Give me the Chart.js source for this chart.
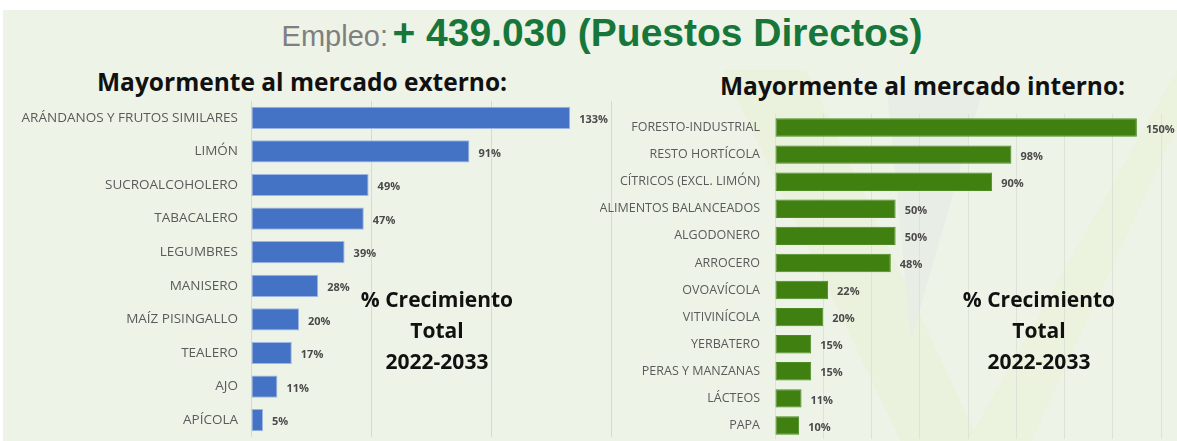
<!DOCTYPE html>
<html lang="es">
<head>
<meta charset="utf-8">
<title>Empleo</title>
<script src="https://cdn.jsdelivr.net/npm/chart.js@4.4.1/dist/chart.umd.min.js"></script>
<style>
  html, body { margin: 0; padding: 0; }
  body { width: 1177px; height: 441px; overflow: hidden; background: #ffffff; }
  #page {
    position: absolute; left: 3px; top: 10px; width: 1174px; height: 431px;
    background: #eef3e7; overflow: hidden;
  }
  /* faint logo shapes behind the right panel */
  .wm { position: absolute; }
  #wm1 { left: 720px; top: 60px; width: 260px; height: 380px; background: #eaf1dc;
         clip-path: polygon(0 0, 32% 0, 100% 100%, 70% 100%); }
  #wm2 { left: 960px; top: 60px; width: 214px; height: 380px; background: #ebf2de;
         clip-path: polygon(100% 0, 100% 15%, 30% 100%, 0 100%); }
  #wm3 { left: 860px; top: 80px; width: 120px; height: 250px; background: #e8eee6;
         clip-path: polygon(20% 0, 100% 0, 40% 100%); }
  canvas { position: absolute; }
  #chartExt { left: -3px; top: 91px; }
  #chartInt { left: 597px; top: 104px; }
  .txt { position: absolute; white-space: nowrap; }
  #title { left: 12px; width: 1174px; top: 1px; text-align: center; font-family: "Liberation Sans", Arial, sans-serif; }
  #title .gray { color: #7f7f7f; font-size: 29px; }
  #title .green { color: #17773a; font-size: 39px; font-weight: bold; }
  .sub { font-family: "Open Sans", sans-serif; font-weight: bold; font-size: 24.5px; color: #111; }
  #subExt { left: 94px; top: 55px; }
  #subInt { left: 717px; top: 59px; }
  .note { font-family: "Open Sans", sans-serif; font-weight: bold; font-size: 21px; color: #111;
          text-align: center; line-height: 31px; }
  #noteExt { left: 334px; top: 274px; width: 200px; }
  #noteInt { left: 936px; top: 274px; width: 200px; }
</style>
</head>
<body>
<div id="page">
  <div class="wm" id="wm1"></div>
  <div class="wm" id="wm2"></div>
  <div class="wm" id="wm3"></div>
  <div class="txt" id="title"><span class="gray">Empleo:</span> <span class="green">+ 439.030 (Puestos Directos)</span></div>
  <div class="txt sub" id="subExt">Mayormente al mercado externo:</div>
  <div class="txt sub" id="subInt">Mayormente al mercado interno:</div>
  <canvas id="chartExt" width="640" height="336"></canvas>
  <canvas id="chartInt" width="577" height="325"></canvas>
  <div class="txt note" id="noteExt">% Crecimiento<br>Total<br>2022-2033</div>
  <div class="txt note" id="noteInt">% Crecimiento<br>Total<br>2022-2033</div>
</div>
<script>
// Crecimiento total 2022-2033, cadenas orientadas al mercado externo
const sectoresExternos = [
  'ARÁNDANOS Y FRUTOS SIMILARES', 'LIMÓN', 'SUCROALCOHOLERO', 'TABACALERO',
  'LEGUMBRES', 'MANISERO', 'MAÍZ PISINGALLO', 'TEALERO', 'AJO', 'APÍCOLA'
];
const crecimientoExterno = [133, 91, 49, 47, 39, 28, 20, 17, 11, 5];

// Cadenas orientadas al mercado interno
const sectoresInternos = [
  'FORESTO-INDUSTRIAL', 'RESTO HORTÍCOLA', 'CÍTRICOS (EXCL. LIMÓN)', 'ALIMENTOS BALANCEADOS',
  'ALGODONERO', 'ARROCERO', 'OVOAVÍCOLA', 'VITIVINÍCOLA', 'YERBATERO',
  'PERAS Y MANZANAS', 'LÁCTEOS', 'PAPA'
];
const crecimientoInterno = [150, 98, 90, 50, 50, 48, 22, 20, 15, 15, 11, 10];

// value labels to the right of each bar
const barValueLabels = {
  id: 'barValueLabels',
  afterDatasetsDraw(chart) {
    const ctx = chart.ctx;
    const meta = chart.getDatasetMeta(0);
    const values = chart.data.datasets[0].data;
    ctx.save();
    ctx.font = 'bold 11px "Open Sans", sans-serif';
    ctx.fillStyle = '#4a4a4a';
    ctx.textBaseline = 'middle';
    ctx.textAlign = 'left';
    meta.data.forEach((bar, i) => {
      ctx.fillText(values[i] + '%', bar.x + 9, bar.y + 2);
    });
    ctx.restore();
  }
};

function makeChart(id, labels, values, opts) {
  return new Chart(document.getElementById(id), {
    type: 'bar',
    data: {
      labels: labels,
      datasets: [{
        data: values,
        backgroundColor: opts.color,
        borderColor: opts.edge,
        borderWidth: 1,
        borderSkipped: false,
        categoryPercentage: 1,
        barPercentage: opts.barPct
      }]
    },
    options: {
      indexAxis: 'y',
      responsive: false,
      animation: false,
      layout: { padding: { left: 0, right: opts.padRight, top: 0, bottom: 0 } },
      scales: {
        x: {
          min: 0,
          max: opts.max,
          ticks: { display: false, stepSize: opts.step },
          grid: { color: opts.gridColor, drawTicks: false },
          border: { display: false }
        },
        y: {
          // fixed label column, no extra room above/below the bars
          afterFit(scale) {
            scale.width = opts.axisWidth;
            scale.paddingTop = 0;
            scale.paddingBottom = 0;
          },
          ticks: {
            color: '#5a5a5a',
            font: { family: '"Open Sans", sans-serif', size: opts.labelSize },
            padding: opts.labelPad
          },
          grid: { display: false, drawTicks: false },
          border: { display: true, color: opts.gridColor }
        }
      },
      plugins: {
        legend: { display: false },
        tooltip: { enabled: false }
      }
    },
    plugins: [barValueLabels]
  });
}

makeChart('chartExt', sectoresExternos, crecimientoExterno, {
  color: '#4472c4', edge: '#9db6e4', barPct: 0.66,
  max: 150, step: 50, axisWidth: 251, padRight: 29, gridColor: '#d6dad2',
  labelSize: 13.5, labelPad: 13
});

makeChart('chartInt', sectoresInternos, crecimientoInterno, {
  color: '#3f8010', edge: '#4d8c22', barPct: 0.68,
  max: 160, step: 20, axisWidth: 175, padRight: 16, gridColor: '#dde3d6',
  labelSize: 12.5, labelPad: 15
});
</script>
</body>
</html>
